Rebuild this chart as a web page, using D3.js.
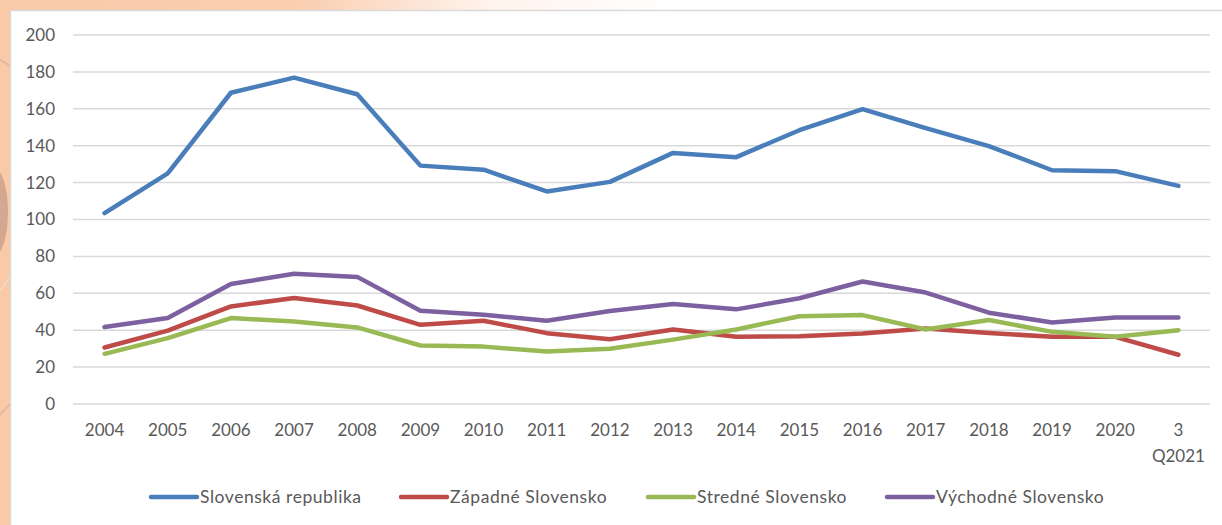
<!DOCTYPE html>
<html>
<head>
<meta charset="utf-8">
<script src="https://cdn.jsdelivr.net/npm/d3@7"></script>
<style>
  html, body { margin: 0; padding: 0; background: #fff; }
  svg { display: block; }
  text { font-family: Lato, "Open Sans", sans-serif; fill: #595959; }
</style>
</head>
<body>
<svg id="chart" width="1222" height="525"></svg>
<script>
// Categories and series values
const categories = ["2004","2005","2006","2007","2008","2009","2010","2011","2012","2013","2014","2015","2016","2017","2018","2019","2020","3 Q2021"];
const slovenskaRepublika = [103.5,125,168.7,176.9,167.9,129.2,127,115.2,120.4,136.1,133.8,148.4,159.8,149.5,139.8,126.7,126.2,118.2];
const zapadneSlovensko   = [30.6,39.8,52.9,57.4,53.4,42.9,45.1,38.4,35.1,40.4,36.4,36.7,38.2,40.9,38.5,36.4,36.4,26.7];
const stredneSlovensko   = [27.2,35.7,46.6,44.7,41.5,31.7,31.1,28.4,30,34.9,40.4,47.6,48.2,40.4,45.5,39.1,36.4,40];
const vychodneSlovensko  = [41.7,46.6,65,70.6,68.9,50.5,48.4,45.1,50.4,54.2,51.3,57.3,66.4,60.4,49.5,44.2,46.9,46.9];
const seriesNames = ["Slovenská republika","Západné Slovensko","Stredné Slovensko","Východné Slovensko"];
const yTicks = [0,20,40,60,80,100,120,140,160,180,200];

const series = [
  {name: seriesNames[0], values: slovenskaRepublika, color: "#4A7EBB"},
  {name: seriesNames[1], values: zapadneSlovensko,   color: "#BE4B48"},
  {name: seriesNames[2], values: stredneSlovensko,   color: "#98B954"},
  {name: seriesNames[3], values: vychodneSlovensko,  color: "#7D60A0"}
];

const svg = d3.select("#chart");
const W = 1222, H = 525;

// Decorative peach backdrop behind the chart panel
const defs = svg.append("defs");
const topGrad = defs.append("linearGradient").attr("id", "topFade").attr("x1", 0).attr("x2", 1).attr("y1", 0).attr("y2", 0);
topGrad.append("stop").attr("offset", "0%").attr("stop-color", "#F9C9A8");
topGrad.append("stop").attr("offset", "25%").attr("stop-color", "#FACFB2");
topGrad.append("stop").attr("offset", "40%").attr("stop-color", "#FFF3EC");
topGrad.append("stop").attr("offset", "55%").attr("stop-color", "#FFFFFF");
svg.append("rect").attr("x", 0).attr("y", 0).attr("width", W).attr("height", H).attr("fill", "url(#topFade)");
svg.append("rect").attr("x", 0).attr("y", 0).attr("width", 12).attr("height", H).attr("fill", "#F9C9A8");
svg.append("ellipse").attr("cx", -6).attr("cy", 212).attr("rx", 14).attr("ry", 44).attr("fill", "#C9A08A").attr("opacity", 0.8);
svg.append("path").attr("d", "M0,60 Q8,64 12,68").attr("stroke", "#E0B49A").attr("stroke-width", 1.5).attr("fill", "none");
svg.append("path").attr("d", "M0,290 Q6,282 12,276").attr("stroke", "#F3D9C9").attr("stroke-width", 1.5).attr("fill", "none");
svg.append("path").attr("d", "M0,415 Q6,408 12,402").attr("stroke", "#E0B49A").attr("stroke-width", 1.5).attr("fill", "none");

// White chart panel
svg.append("rect").attr("x", 10.5).attr("y", 10.5).attr("width", W).attr("height", H)
  .attr("fill", "#fff").attr("stroke", "#D9D9D9").attr("stroke-width", 1.5);

// Scales
const x = d3.scaleBand().domain(categories).range([73, 1210]);
const y = d3.scaleLinear().domain([0, 200]).range([404, 35]);
const cx = d => x(d) + x.bandwidth() / 2;

// Gridlines
svg.append("g").selectAll("line").data(yTicks).join("line")
  .attr("x1", 73).attr("x2", 1210)
  .attr("y1", d => y(d)).attr("y2", d => y(d))
  .attr("stroke", "#D9D9D9").attr("stroke-width", 1.5);

// Y axis
const yAxis = svg.append("g").attr("transform", "translate(73,0)")
  .call(d3.axisLeft(y).tickValues(yTicks).tickSize(0).tickPadding(18));
yAxis.select(".domain").remove();
yAxis.selectAll("text").attr("font-size", 17).attr("font-family", "Lato, sans-serif").attr("fill", "#595959");

// X axis
const xAxis = svg.append("g").attr("transform", "translate(0,404)")
  .call(d3.axisBottom(x).tickSize(0));
xAxis.select(".domain").remove();
xAxis.selectAll("text")
  .attr("font-size", 17).attr("font-family", "Lato, sans-serif").attr("fill", "#595959")
  .attr("y", 32).attr("dy", 0)
  .each(function(d) {
    const parts = d.split(" ");
    const t = d3.select(this).text(null);
    parts.forEach((p, i) => {
      t.append("tspan").attr("x", 0).attr("dy", i === 0 ? 0 : 25.5).text(p);
    });
  });

// Lines
const line = d3.line().x((d, i) => cx(categories[i])).y(d => y(d));
svg.append("g").selectAll("path").data(series).join("path")
  .attr("d", s => line(s.values))
  .attr("fill", "none")
  .attr("stroke", s => s.color)
  .attr("stroke-width", 4.5)
  .attr("stroke-linejoin", "round")
  .attr("stroke-linecap", "round");

// Legend
const legendX = [151, 401, 648, 887];
const legend = svg.append("g").selectAll("g").data(series).join("g")
  .attr("transform", (s, i) => `translate(${legendX[i]},497)`);
legend.append("line").attr("x1", 0).attr("x2", 46).attr("y1", 0).attr("y2", 0)
  .attr("stroke", s => s.color).attr("stroke-width", 4.5).attr("stroke-linecap", "round");
legend.append("text").attr("x", 49).attr("y", 0).attr("dy", "0.35em")
  .attr("font-size", 17.5).attr("letter-spacing", 0.55).text(s => s.name);
</script>
</body>
</html>
